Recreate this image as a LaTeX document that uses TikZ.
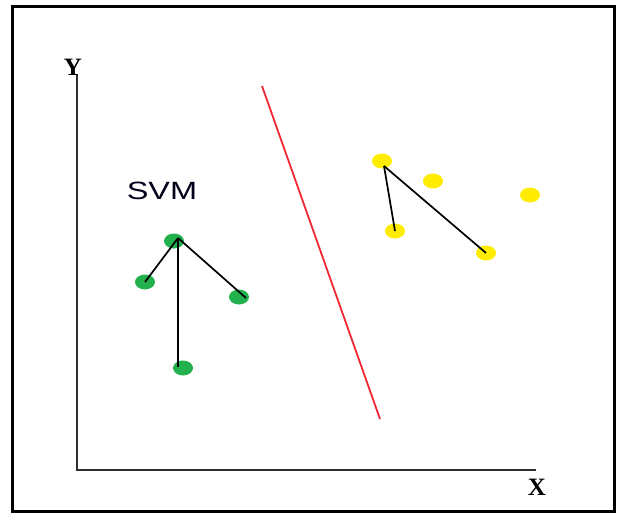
\documentclass[tikz,border=0pt]{standalone}
\usepackage{fontspec}
\setmainfont{Liberation Serif}
\setsansfont{Liberation Sans}
\usetikzlibrary{shapes.geometric}
\definecolor{gdot}{RGB}{34,177,76}
\definecolor{ydot}{RGB}{255,236,0}
\definecolor{redline}{RGB}{240,40,50}
\definecolor{axisgray}{RGB}{45,45,45}
\tikzset{
  gpt/.style={ellipse, fill=gdot, minimum width=20pt, minimum height=15pt, inner sep=0pt},
  ypt/.style={ellipse, fill=ydot, minimum width=20pt, minimum height=15pt, inner sep=0pt},
  link/.style={black, line width=1.7pt},
  axisline/.style={axisgray, line width=2.6pt},
  axlabel/.style={font=\fontsize{25}{25}\selectfont\bfseries, text=black, inner sep=0pt},
}
\begin{document}
\begin{tikzpicture}[x=1pt,y=-1pt]
\useasboundingbox (0,0) rectangle (617,513);
\draw[line width=3pt] (12,7) rectangle (614,511);
% axes
\coordinate (O) at (77,470);
\coordinate (Ytop) at (77,74);
\coordinate (Xend) at (536,470);
\draw[axisline] (Ytop) -- (O) -- (Xend);
\node[axlabel] (ylab) at (73,67) {Y};
\node[axlabel] (xlab) at (537,487) {X};
% separating line
\coordinate (r1) at (262,86);
\coordinate (r2) at (380,419);
\draw[redline, line width=1.8pt] (r1) -- (r2);
% label
\node[font=\sffamily\fontsize{25}{25}\selectfont, xscale=1.3, text=black!90!blue, inner sep=0pt] (svm) at (162,191) {SVM};
% green points
\node[gpt] (g1) at (174,241) {};
\node[gpt] (g2) at (145,282) {};
\node[gpt] (g3) at (239,297) {};
\node[gpt] (g4) at (183,368) {};
\coordinate (gc) at (178,238);
\draw[link] (gc) -- (178,367);
\draw[link] (gc) -- (g2.center);
\draw[link] (gc) -- (246,298);
% yellow points
\node[ypt] (y1) at (382,161) {};
\node[ypt] (y2) at (433,181) {};
\node[ypt] (y3) at (530,195) {};
\node[ypt] (y4) at (395,231) {};
\node[ypt] (y5) at (486,253) {};
\coordinate (yc) at (384,166);
\draw[link] (yc) -- (y4.center);
\draw[link] (yc) -- (y5.center);
\end{tikzpicture}
\end{document}
